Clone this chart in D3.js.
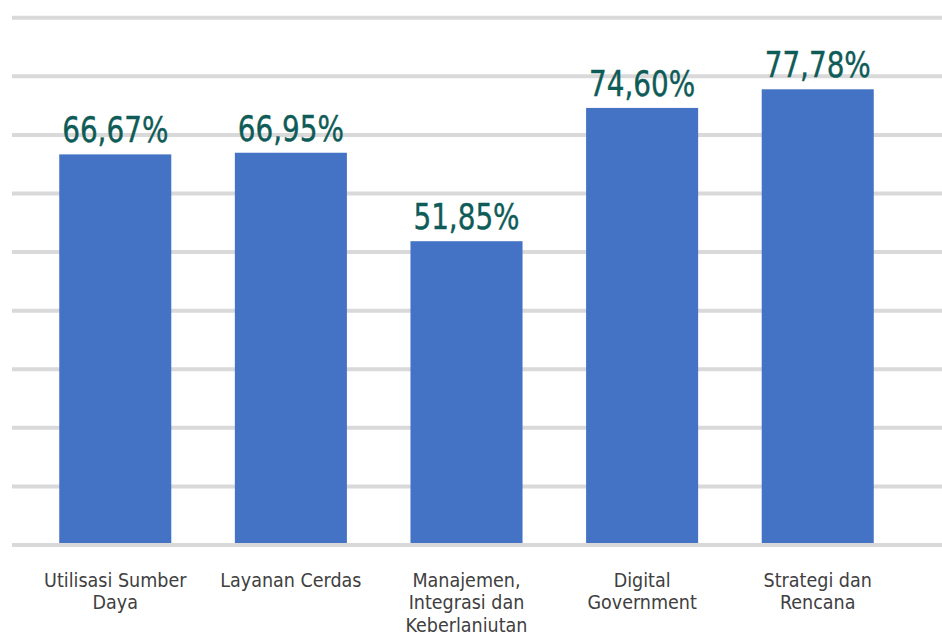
<!DOCTYPE html>
<html>
<head>
<meta charset="utf-8">
<script src="https://cdn.jsdelivr.net/npm/d3@7"></script>
<style>
  html, body { margin: 0; padding: 0; background: #ffffff; }
  svg { display: block; }
</style>
</head>
<body>
<svg id="chart" width="942" height="632"></svg>
<script>
// Chart data
const categories = [
  ["Utilisasi Sumber", "Daya"],
  ["Layanan Cerdas"],
  ["Manajemen,", "Integrasi dan", "Keberlanjutan"],
  ["Digital", "Government"],
  ["Strategi dan", "Rencana"]
];
const values = [66.67, 66.95, 51.85, 74.60, 77.78];
const valueLabels = ["66,67%", "66,95%", "51,85%", "74,60%", "77,78%"];
const gridTicks = [0, 10, 20, 30, 40, 50, 60, 70, 80, 90];

const W = 942, H = 632;
const svg = d3.select("#chart");

const keys = categories.map(c => c.join(" "));

const x = d3.scaleBand()
  .domain(keys)
  .range([12, 921])
  .paddingInner(0.362)
  .paddingOuter(0.269);

const y = d3.scaleLinear()
  .domain([0, 90])
  .range([545, 17.7]);

// Horizontal gridlines (baseline included)
svg.append("g")
  .selectAll("line")
  .data(gridTicks)
  .join("line")
  .attr("x1", 12)
  .attr("x2", W)
  .attr("y1", d => y(d))
  .attr("y2", d => y(d))
  .attr("stroke", "#d9d9d9")
  .attr("stroke-width", 4);

// Bars
svg.append("g")
  .selectAll("rect")
  .data(values)
  .join("rect")
  .attr("x", (d, i) => x(keys[i]))
  .attr("width", x.bandwidth())
  .attr("y", d => y(d))
  .attr("height", d => y(0) - 2 - y(d))
  .attr("fill", "#4472c4");

// Value labels above bars (horizontally condensed)
svg.append("g")
  .selectAll("text")
  .data(values)
  .join("text")
  .attr("transform", (d, i) =>
    `translate(${x(keys[i]) + x.bandwidth() / 2},${y(d) - 12}) scale(0.86,1)`)
  .attr("text-anchor", "middle")
  .attr("font-family", "'DejaVu Sans Condensed', 'DejaVu Sans', sans-serif")
  .attr("font-size", 36)
  .attr("fill", "#0f5b58")
  .attr("stroke", "#0f5b58")
  .attr("stroke-width", 0.4)
  .text((d, i) => valueLabels[i]);

// Category labels beneath the axis
const catG = svg.append("g")
  .selectAll("text")
  .data(categories)
  .join("text")
  .attr("x", (d, i) => x(keys[i]) + x.bandwidth() / 2)
  .attr("y", 586.5)
  .attr("text-anchor", "middle")
  .attr("font-family", "'DejaVu Sans Condensed', 'DejaVu Sans', sans-serif")
  .attr("font-size", 19.5)
  .attr("fill", "#404040");

catG.selectAll("tspan")
  .data(d => d)
  .join("tspan")
  .attr("x", function () { return d3.select(this.parentNode).attr("x"); })
  .attr("dy", (d, i) => i === 0 ? 0 : 22.5)
  .text(d => d);
</script>
</body>
</html>
